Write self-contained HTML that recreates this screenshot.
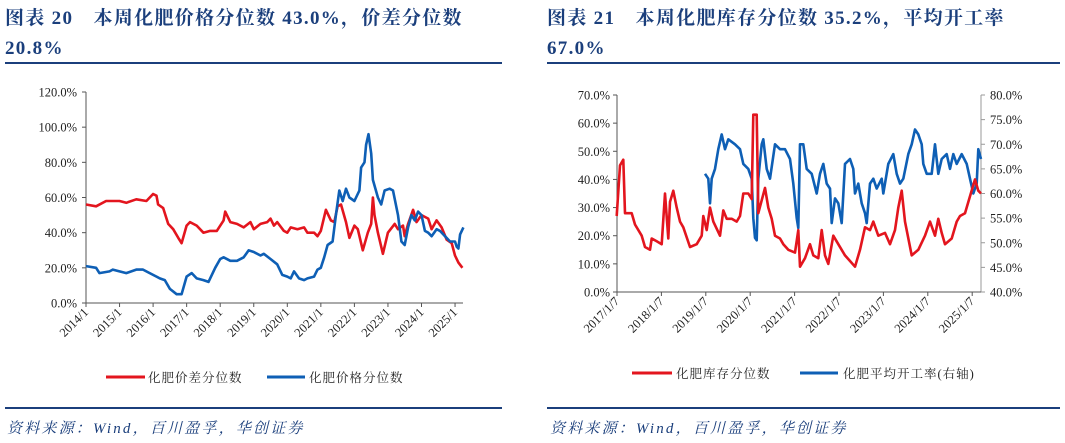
<!DOCTYPE html>
<html><head><meta charset="utf-8"><style>
html,body{margin:0;padding:0;background:#fff;width:1065px;height:443px;overflow:hidden}
svg{display:block}
.t{font-family:"Liberation Serif","Noto Serif CJK SC",serif;font-weight:bold;font-size:19px;letter-spacing:1.3px;fill:#1b3f7c}
.tk{font-family:"Liberation Serif",serif;font-size:12.5px;fill:#222}
.lg{font-family:"Liberation Serif","Noto Serif CJK SC",serif;font-size:12.5px;letter-spacing:1px;fill:#222}
.src{font-family:"Liberation Serif","Noto Serif CJK SC",serif;font-style:italic;font-size:15px;letter-spacing:2.2px;fill:#1b3f7c}
</style></head><body>
<svg id="c" width="1065" height="443">
<g>
<text class="t" x="5" y="24">图表 20　本周化肥价格分位数 43.0%，价差分位数</text>
<text class="t" x="5" y="54">20.8%</text>
<line x1="5" y1="63" x2="502" y2="63" stroke="#1b3f7c" stroke-width="2"/>
<line x1="5" y1="408" x2="502" y2="408" stroke="#1b3f7c" stroke-width="2"/>
<text class="src" x="7" y="433">资料来源：Wind，百川盈孚，华创证券</text>
<g>
<line x1="106" y1="377" x2="145" y2="377" stroke="#e3151e" stroke-width="3"/>
<text class="lg" x="148" y="382">化肥价差分位数</text>
<line x1="267" y1="377" x2="305" y2="377" stroke="#0e5fb5" stroke-width="3"/>
<text class="lg" x="309" y="382">化肥价格分位数</text>
</g>
</g>
<g>
<text class="t" x="547" y="24">图表 21　本周化肥库存分位数 35.2%，平均开工率</text>
<text class="t" x="547" y="54">67.0%</text>
<line x1="547" y1="63" x2="1060" y2="63" stroke="#1b3f7c" stroke-width="2"/>
<line x1="547" y1="408" x2="1060" y2="408" stroke="#1b3f7c" stroke-width="2"/>
<text class="src" x="550" y="433">资料来源：Wind，百川盈孚，华创证券</text>
<g>
<line x1="632" y1="373" x2="672" y2="373" stroke="#e3151e" stroke-width="3"/>
<text class="lg" x="676" y="378">化肥库存分位数</text>
<line x1="800" y1="373" x2="838" y2="373" stroke="#0e5fb5" stroke-width="3"/>
<text class="lg" x="843" y="378">化肥平均开工率(右轴)</text>
</g>
</g>
</svg>
<script>
// Left chart data (time in fractional years, values in %)
const leftTicksY = ["0.0%","20.0%","40.0%","60.0%","80.0%","100.0%","120.0%"];
const leftTickVals = [0,20,40,60,80,100,120];
const leftYears = ["2014/1","2015/1","2016/1","2017/1","2018/1","2019/1","2020/1","2021/1","2022/1","2023/1","2024/1","2025/1"];
const spreadT = [2014.0,2014.3,2014.6,2015.0,2015.2,2015.5,2015.8,2016.0,2016.1,2016.15,2016.3,2016.45,2016.6,2016.75,2016.85,2017.0,2017.1,2017.3,2017.5,2017.7,2017.9,2018.1,2018.15,2018.3,2018.5,2018.7,2018.9,2019.0,2019.2,2019.4,2019.5,2019.6,2019.7,2019.9,2020.0,2020.1,2020.3,2020.5,2020.6,2020.8,2020.9,2021.0,2021.15,2021.3,2021.4,2021.5,2021.6,2021.75,2021.85,2022.0,2022.1,2022.25,2022.4,2022.5,2022.55,2022.6,2022.7,2022.85,2023.0,2023.2,2023.3,2023.45,2023.5,2023.6,2023.75,2023.85,2024.0,2024.2,2024.3,2024.45,2024.6,2024.75,2024.9,2025.0,2025.1,2025.22];
const spreadV = [56,55,58,58,57,59,58,62,61,56,54,45,42,37,34,44,46,44,40,41,41,47,52,46,45,43,46,42,45,46,48,44,46,41,40,43,42,43,40,40,38,41,53,47,46,55,56,46,37,44,42,30,40,45,60,50,40,28,40,45,42,44,38,45,53,46,50,48,42,47,43,36,34,27,23,20];
const priceT = [2014.0,2014.3,2014.4,2014.7,2014.8,2015.0,2015.2,2015.5,2015.7,2015.9,2016.1,2016.2,2016.35,2016.5,2016.7,2016.85,2017.0,2017.15,2017.3,2017.5,2017.65,2017.85,2018.0,2018.1,2018.3,2018.5,2018.7,2018.85,2019.0,2019.2,2019.3,2019.5,2019.7,2019.85,2020.0,2020.1,2020.2,2020.35,2020.5,2020.6,2020.8,2020.9,2021.0,2021.1,2021.2,2021.35,2021.45,2021.55,2021.65,2021.75,2021.85,2022.0,2022.15,2022.2,2022.3,2022.35,2022.42,2022.5,2022.55,2022.7,2022.8,2022.9,2023.05,2023.15,2023.3,2023.4,2023.5,2023.6,2023.7,2023.8,2023.9,2024.0,2024.1,2024.2,2024.3,2024.45,2024.55,2024.7,2024.85,2025.0,2025.05,2025.1,2025.15,2025.25];
const priceV = [21,20,17,18,19,18,17,19,19,17,15,14,13,8,5,5,15,17,14,13,12,20,25,26,24,24,26,30,29,27,28,25,22,16,15,14,18,14,13,14,15,19,20,26,33,35,50,64,58,65,60,58,64,77,80,90,96,85,70,60,56,64,65,64,50,35,33,43,50,47,52,50,41,40,38,42,41,38,35,35,32,31,39,43];

// Right chart data
const rightTicksL = ["0.0%","10.0%","20.0%","30.0%","40.0%","50.0%","60.0%","70.0%"];
const rightTickValsL = [0,10,20,30,40,50,60,70];
const rightTicksR = ["40.0%","45.0%","50.0%","55.0%","60.0%","65.0%","70.0%","75.0%","80.0%"];
const rightTickValsR = [40,45,50,55,60,65,70,75,80];
const rightYears = ["2017/1/7","2018/1/7","2019/1/7","2020/1/7","2021/1/7","2022/1/7","2023/1/7","2024/1/7","2025/1/7"];
const invZ = [245,255,265,270,290,300,320,330,345,350,365,380,390,400,405,415,425,435,445,465,485,500,505,515,525,535,555,565,575,590,605,615,625,640,650,655,665,670,690,700,710,720,735,745,760,780,790,795,810,825,835,850,860,870,880,895,910,930,945,960,975,990,1005,1015,1030,1050,1065,1080,1090,1100,1110,1130,1150,1170,1185,1200,1210,1220,1230,1250,1265,1275,1290,1305,1320,1330,1338];
const invV = [27,45,47,28,28,24,20,16,15,19,18,17,35,19,32,36,30,25,23,16,17,20,27,22,30,25,20,29,26,26,25,27,35,35,33,63,63,28,37,30,26,20,19,17,15,14,22,9,12,17,13,12,22,13,10,20,17,13,11,9,15,23,22,25,20,21,17,22,30,36,25,13,15,20,25,20,26,21,17,19,25,27,28,34,40,36,35];
const utilZ = [510,520,525,530,540,550,560,570,580,600,615,625,640,650,655,660,665,670,680,685,695,705,720,735,750,765,775,785,790,795,805,815,830,845,855,865,875,885,890,900,910,920,930,945,955,960,970,980,990,995,1005,1015,1025,1040,1045,1060,1075,1085,1095,1105,1120,1130,1140,1150,1160,1165,1175,1190,1200,1210,1220,1235,1245,1255,1265,1280,1295,1305,1315,1325,1330,1338];
const utilV = [64,63,58,63,65,69,72,69,71,70,69,66,65,63,55,51,50.5,63,70,71,65,63,70,69,69,67,62,55,53,70,70,65,64,60,64,66,62,61,54,59,58,54,66,67,65,60,62,58,56,54,62,63,61,63,60,66,68,64,62,63,68,70,73,72,70,66,64,64,70,64,67,68,65,68,66,68,66,63,60,62,69,67];

const svg = document.getElementById('c');
const NS = 'http://www.w3.org/2000/svg';
function mk(tag, attrs, parent){const e=document.createElementNS(NS,tag);for(const k in attrs)e.setAttribute(k,attrs[k]);(parent||svg).appendChild(e);return e;}

const L = {x0:86, x1:463, y0:303, y1:92};
const lx = t => L.x0 + (t-2014)*33.55;
const ly = v => L.y0 - v/120*(L.y0-L.y1);
const R = {x0:617, x1:981, y0:292, y1:95};
const rxz = z => 535 + z/3;
const rxYear = i => R.x0 + i*44.4;
const ryl = v => R.y0 - v/70*(R.y0-R.y1);
const ryr = v => R.y0 - (v-40)/40*(R.y0-R.y1);

const gla = mk('g',{});


let a = mk('line',{x1:L.x0,y1:L.y1,x2:L.x0,y2:L.y0,stroke:'#555','stroke-width':1},gla);


a = mk('line',{x1:L.x0,y1:L.y0,x2:L.x1,y2:L.y0,stroke:'#555','stroke-width':1},gla);


leftTickVals.forEach((v,i)=>{
  const y=ly(v);
  mk('line',{x1:L.x0-4,y1:y,x2:L.x0,y2:y,stroke:'#555'},gla);
  const t=mk('text',{x:L.x0-9,y:y+4.5,'text-anchor':'end',class:'tk'},gla);
  t.textContent=leftTicksY[i];
  
  
});
leftYears.forEach((s,i)=>{
  const x=lx(2014+i);
  mk('line',{x1:x,y1:L.y0,x2:x,y2:L.y0+4,stroke:'#555'},gla);
  const t=mk('text',{x:x+3,y:L.y0+10,'text-anchor':'end',class:'tk',transform:`rotate(-45 ${x+3} ${L.y0+10})`},gla);
  t.textContent=s;
  
  
});
function path(ts,vs,fx,fy,color,name){
  const d=ts.map((t,i)=>(i?'L':'M')+fx(t).toFixed(1)+','+fy(vs[i]).toFixed(1)).join('');
  const p=mk('path',{d:d,fill:'none',stroke:color,'stroke-width':2.6,'stroke-linejoin':'round'});
  
  
}
path(spreadT,spreadV,lx,ly,'#e3151e','spread-percentile-line');
path(priceT,priceV,lx,ly,'#0e5fb5','price-percentile-line');

const gra = mk('g',{});


a = mk('line',{x1:R.x0,y1:R.y1,x2:R.x0,y2:R.y0,stroke:'#555'},gra);


a = mk('line',{x1:R.x1,y1:R.y1,x2:R.x1,y2:R.y0,stroke:'#999'},gra);


a = mk('line',{x1:R.x0,y1:R.y0,x2:R.x1,y2:R.y0,stroke:'#555'},gra);


rightTickValsL.forEach((v,i)=>{
  const y=ryl(v);
  mk('line',{x1:R.x0-4,y1:y,x2:R.x0,y2:y,stroke:'#555'},gra);
  const t=mk('text',{x:R.x0-7,y:y+4.5,'text-anchor':'end',class:'tk'},gra);
  t.textContent=rightTicksL[i];
  
  
});
rightTickValsR.forEach((v,i)=>{
  const y=ryr(v);
  mk('line',{x1:R.x1,y1:y,x2:R.x1+4,y2:y,stroke:'#999'},gra);
  const t=mk('text',{x:R.x1+9,y:y+4.5,class:'tk'},gra);
  t.textContent=rightTicksR[i];
  
  
});
rightYears.forEach((s,i)=>{
  const x=rxYear(i);
  mk('line',{x1:x,y1:R.y0,x2:x,y2:R.y0+4,stroke:'#555'},gra);
  const t=mk('text',{x:x+3,y:R.y0+10,'text-anchor':'end',class:'tk',transform:`rotate(-45 ${x+3} ${R.y0+10})`},gra);
  t.textContent=s;
  
  
});
path(utilZ,utilV,rxz,ryr,'#0e5fb5','utilization-rate-line');
path(invZ,invV,rxz,ryl,'#e3151e','inventory-percentile-line');
</script>
</body></html>
